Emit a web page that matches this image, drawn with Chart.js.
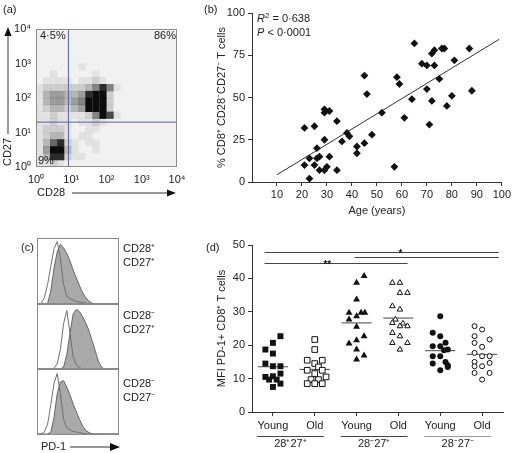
<!DOCTYPE html>
<html>
<head>
<meta charset="utf-8">
<title>CD8 T cell figure</title>
<script src="https://cdn.jsdelivr.net/npm/chart.js@4.4.1/dist/chart.umd.min.js"></script>
<style>
  html, body { margin:0; padding:0; background:#fff; }
  #fig { position:relative; width:513px; height:453px; overflow:hidden;
         font-family:"Liberation Sans", Arial, Helvetica, sans-serif; color:#222; }
  #fig canvas { position:absolute; }
  .t { position:absolute; font-size:11px; line-height:13px; white-space:nowrap; }
  .t sup { font-size:8px; line-height:0; vertical-align:4px; }
</style>
</head>
<body>
<div id="fig">
  <canvas id="chartA" width="230" height="215" style="left:0;top:0"></canvas>
  <canvas id="chartB" width="313" height="225" style="left:200px;top:0"></canvas>
  <canvas id="chartC1" width="82" height="67" style="left:37px;top:238px"></canvas>
  <canvas id="chartC2" width="82" height="67" style="left:37px;top:303px"></canvas>
  <canvas id="chartC3" width="82" height="67" style="left:37px;top:368px"></canvas>
  <canvas id="chartD" width="313" height="228" style="left:200px;top:225px"></canvas>

  <div class="t" style="left:3px;top:3px">(a)</div>
  <div class="t" style="left:204px;top:3px">(b)</div>
  <div class="t" style="left:21px;top:241px">(c)</div>
  <div class="t" style="left:206px;top:241px">(d)</div>
  <div class="t" id="statR" style="left:257px;top:12px"></div>
  <div class="t" id="statP" style="left:257px;top:26px"></div>
  <div id="histLabels"></div>
  <div class="t" style="left:41px;top:440px">PD-1</div>
  <svg style="position:absolute;left:70px;top:442px" width="52" height="10">
    <line x1="0" y1="5" x2="42" y2="5" stroke="#333" stroke-width="1"/>
    <polygon points="40,1 50,5 40,9" fill="#111"/>
  </svg>
</div>

<script>
// ======================= DATA =======================
// (a) CD28 (x) vs CD27 (y) dot plot, log decades 10^0..10^4.
// Event density per 0.2-decade cell (0 = none .. 9 = saturated).
// Rows run from CD27 = 10^4 (top) down to 10^0; columns from CD28 = 10^0 to 10^4.
const logDecadeLabels = ['10⁰', '10¹', '10²', '10³', '10⁴'];
const densityRows = [
  '00000000000000000000',
  '00000000000000000000',
  '00000000000000000000',
  '00000000000000000000',
  '00000000000000000000',
  '00000010000000000000',
  '00100000100000000000',
  '01111011210000000000',
  '12222223585100000000',
  '13443348992000000000',
  '13443459992000000000',
  '12332349992000000000',
  '11211112597100000000',
  '11211011210000000000',
  '12221001100000000000',
  '12331011000000000000',
  '13682101100000000000',
  '14993100100000000000',
  '13882110000000000000',
  '11210000000000000000'
];
const gateCD28 = 8.3;     // quadrant gate on CD28 axis
const gateCD27 = 20;      // quadrant gate on CD27 axis
const quadrantPct = ['4·5%', '86%', '9%'];   // upper-left, upper-right, lower-left

// (b) age vs % CD8+ CD28-CD27- T cells
const ages = [21,25,34,29,31,29,29,26,23,21,25,27,26,31,27,29,30,34,23,36,38,39,42,42,45,48,
              45,46,52,57,58,59,61,64,65,68,70,70,71,72,72,73,73,75,76,77,78,80,81,87,88];
const pctCD28negCD27neg = [32,33,36,43,42,41,25,20,14,10,10,15,14,15,7,7,9,7,2,24,29,27,21,17,23,28,
              63,52,41,9,62,58,38,49,82,70,69,55,34,48,76,78,69,61,79,79,45,51,72,79,54];
const fitAge = [10, 99];
const fitPct = [4.3, 84.5];
const rSquared = '0·638';
const pValue = '0·0001';

// (c) PD-1 histograms (% of modal), isotype (open) vs PD-1 (filled)
const pd1Channel = [0,4,8,12,16,20,24,28,32,36,40,44,48,52,56,60,64,68,72,76,80,84,88,92,96,100];
const histSubsets = [['CD28⁺','CD27⁺'], ['CD28⁻','CD27⁺'], ['CD28⁻','CD27⁻']];
const isoCD28posCD27pos = [0,1,10,30,58,85,96,70,30,12,8,6,4,3,2,1,0,0,0,0,0,0,0,0,0,0];
const pd1CD28posCD27pos = [0,0,0,1,20,55,80,92,86,78,66,52,40,28,17,9,4,1,0,0,0,0,0,0,0,0];
const isoCD28negCD27pos = [0,0,0,0,0,1,8,30,70,90,55,18,6,2,0,0,0,0,0,0,0,0,0,0,0,0];
const pd1CD28negCD27pos = [0,0,0,0,0,0,0,0,3,22,55,85,92,88,80,70,58,42,26,10,2,0,0,0,0,0];
const isoCD28negCD27neg = [0,0,3,15,45,78,93,62,22,10,6,4,3,2,1,0,0,0,0,0,0,0,0,0,0,0];
const pd1CD28negCD27neg = [0,0,0,0,3,25,62,80,82,72,60,46,34,22,12,5,2,0,0,0,0,0,0,0,0,0];

// (d) MFI of PD-1 on CD8+ T cells, young vs old donors, per subset
const subsetLabels = ['Young', 'Old', 'Young', 'Old', 'Young', 'Old'];
const groupLabels = ['28⁺27⁺', '28⁻27⁺', '28⁻27⁻'];
const mfiYoung28p27p = [22.7,20.7,18.7,17.5,14.5,13.7,13.7,11.5,10.5,10.7,9.7,9.7,8.5,7.5];
const mfiOld28p27p   = [21.7,18.7,15.5,15.5,14.5,13.5,12.5,12.5,11.5,10.5,9.7,9.7,8.5,8.5,8.5];
const mfiYoung28n27p = [40.7,38.7,33.7,29.7,29.7,29.7,28.7,27.7,25.5,22.7,21.5,20.5,18.7,16.9,15.7];
const mfiOld28n27p   = [38.7,38.7,35.7,35.7,31.7,30.7,27.7,26.7,26.5,25.7,25.7,23.7,22.7,20.7,20.7,18.7];
const mfiYoung28n27n = [28.7,23.7,22.7,20.7,19.7,19.7,18.7,18.5,16.7,16.7,15.0,14.5,14.0,13.5,12.5];
const mfiOld28n27n   = [25.7,24.7,22.7,21.7,20.7,19.5,17.7,16.7,16.7,15.0,14.7,13.7,13.7,11.7,11.7,9.7];
// dot-column index of each point (scatter layout, not data)
const colYoung28p27p = [1,0,-1,0,-1,0,1,1,-1,0,-0.5,0.5,1,0];
const colOld28p27p   = [0,0,-1,1,0,0.5,-1,1,0,1.5,-0.5,0.5,-1,0,1];
const colYoung28n27p = [1,0,0,-1,0.6,1.1,0,-1,0,1,0,-1,0,1,0];
const colOld28n27p   = [-0.8,0.2,0.2,1.2,-0.8,0.2,-0.4,-0.8,0.6,0.2,1.2,-0.8,0.2,-0.8,1.2,0.2];
const colYoung28n27n = [0,-1,0,0.7,-1,0,1,0.5,-1,0,0.7,-1,1,1,0];
const colOld28n27n   = [-1,0,-1,1,-1,0,-1,0,1,-1,1,-1,0,-1,1,0];
// significance bars: [from, to] in subset positions, height in MFI units
const sigFrom  = [0.8, 2.95, 0.8];
const sigTo    = [6.4, 6.4, 4.22];
const sigY     = [47.8, 46.3, 44.5];
const sigMark  = ['*', '', '**'];
const sigMarkX = [4.05, 0, 2.3];

// ======================= STYLE / HELPERS =======================
const FONT = '"Liberation Sans", Arial, Helvetica, sans-serif';
Chart.defaults.font.family = FONT;
Chart.defaults.font.size = 11;
Chart.defaults.color = '#222';
Chart.defaults.animation = false;
Chart.defaults.plugins.legend.display = false;
Chart.defaults.plugins.tooltip.enabled = false;

function arrow(ctx, x1, y1, x2, y2) {
  const ang = Math.atan2(y2 - y1, x2 - x1), L = 9, W = 3.6;
  ctx.save();
  ctx.strokeStyle = '#333'; ctx.fillStyle = '#111'; ctx.lineWidth = 1;
  ctx.beginPath();
  ctx.moveTo(x1, y1);
  ctx.lineTo(x2 - Math.cos(ang) * L * 0.8, y2 - Math.sin(ang) * L * 0.8);
  ctx.stroke();
  ctx.beginPath();
  ctx.moveTo(x2, y2);
  ctx.lineTo(x2 - Math.cos(ang) * L - Math.sin(ang) * W, y2 - Math.sin(ang) * L + Math.cos(ang) * W);
  ctx.lineTo(x2 - Math.cos(ang) * L + Math.sin(ang) * W, y2 - Math.sin(ang) * L - Math.cos(ang) * W);
  ctx.closePath(); ctx.fill();
  ctx.restore();
}

// ======================= (a) dot plot =======================
const nCols = densityRows[0].length;
const cellStep = 4 / nCols;
const cells = [];
densityRows.forEach((row, r) => {
  [...row].forEach((ch, c) => {
    const d = +ch;
    if (d > 0) cells.push({ x: (c + 0.5) * cellStep, y: 4 - (r + 0.5) * cellStep, d });
  });
});

const panelAPlugin = {
  id: 'panelA',
  beforeDatasetsDraw(chart) {
    const { ctx, chartArea: a } = chart;
    ctx.save(); ctx.fillStyle = '#f1f1f1';
    ctx.fillRect(a.left, a.top, a.width, a.height); ctx.restore();
  },
  afterDraw(chart) {
    const { ctx, chartArea: a } = chart;
    ctx.save();
    ctx.strokeStyle = '#8c8c8c'; ctx.lineWidth = 1;
    ctx.strokeRect(Math.round(a.left) + 0.5, Math.round(a.top) + 0.5, Math.round(a.width) - 1, Math.round(a.height) - 1);
    ctx.fillStyle = '#222'; ctx.font = '11px ' + FONT; ctx.textBaseline = 'middle';
    ctx.textAlign = 'left';
    ctx.fillText(quadrantPct[0], a.left + 4, a.top + 7);
    ctx.fillText(quadrantPct[2], a.left + 2, a.bottom - 6);
    ctx.textAlign = 'right';
    ctx.fillText(quadrantPct[1], a.right - 1, a.top + 7);
    ctx.textAlign = 'left';
    ctx.fillText('CD28', 37, 193);
    ctx.restore();
    arrow(ctx, 72, 193, 176, 193);
    ctx.save();
    ctx.translate(8, 152); ctx.rotate(-Math.PI / 2);
    ctx.fillStyle = '#222'; ctx.font = '11px ' + FONT; ctx.textAlign = 'center'; ctx.textBaseline = 'middle';
    ctx.fillText('CD27', 0, 0);
    ctx.restore();
    arrow(ctx, 8, 134, 8, 27);
  }
};

new Chart(document.getElementById('chartA'), {
  type: 'scatter',
  data: { datasets: [
    { type: 'line', order: 0, data: [{ x: Math.log10(gateCD28), y: 0 }, { x: Math.log10(gateCD28), y: 4 }],
      borderColor: '#5660a8', borderWidth: 1, pointRadius: 0 },
    { type: 'line', order: 0, data: [{ x: 0, y: Math.log10(gateCD27) }, { x: 4, y: Math.log10(gateCD27) }],
      borderColor: '#5660a8', borderWidth: 1, pointRadius: 0 },
    { order: 1, data: cells, pointStyle: 'rect', borderWidth: 0,
      pointRadius: (c) => c.chart.chartArea ? (c.chart.chartArea.width / nCols) / Math.SQRT2 * 1.03 : 5,
      backgroundColor: (c) => 'rgba(12,12,12,' + Math.pow((c.raw ? c.raw.d : 0) / 9, 1.25).toFixed(3) + ')' }
  ] },
  options: {
    responsive: false, devicePixelRatio: 1,
    layout: { padding: { top: 29, right: 53, left: 0, bottom: 0 } },
    scales: {
      x: { type: 'linear', min: 0, max: 4,
        afterBuildTicks: (s) => { s.ticks = [0, 1, 2, 3, 4].map(v => ({ value: v })); },
        afterFit: (s) => { s.height = 48; },
        ticks: { callback: (v) => logDecadeLabels[v], padding: 6, maxRotation: 0, autoSkip: false },
        grid: { display: false, drawTicks: false }, border: { display: false } },
      y: { type: 'linear', min: 0, max: 4,
        afterBuildTicks: (s) => { s.ticks = [0, 1, 2, 3, 4].map(v => ({ value: v })); },
        afterFit: (s) => { s.width = 36; },
        ticks: { callback: (v) => logDecadeLabels[v], padding: 5, autoSkip: false },
        grid: { display: false, drawTicks: false }, border: { display: false } }
    }
  },
  plugins: [panelAPlugin]
});

// ======================= (b) age scatter =======================
document.getElementById('statR').innerHTML = '<i>R</i><sup>2</sup> = ' + rSquared;
document.getElementById('statP').innerHTML = '<i>P</i> &lt; ' + pValue;

new Chart(document.getElementById('chartB'), {
  type: 'scatter',
  data: { datasets: [
    { order: 0, data: ages.map((a, i) => ({ x: a, y: pctCD28negCD27neg[i] })),
      pointStyle: 'rectRot', pointRadius: 3.9, backgroundColor: '#111', borderWidth: 0 },
    { type: 'line', order: 1, data: fitAge.map((a, i) => ({ x: a, y: fitPct[i] })),
      borderColor: '#333', borderWidth: 1, pointRadius: 0 }
  ] },
  options: {
    responsive: false, devicePixelRatio: 1,
    layout: { padding: { top: 13, right: 10, left: 0, bottom: 0 } },
    scales: {
      x: { type: 'linear', min: 0, max: 100,
        afterBuildTicks: (s) => { s.ticks = [10, 20, 30, 40, 50, 60, 70, 80, 90, 100].map(v => ({ value: v })); },
        afterFit: (s) => { s.height = 43; },
        ticks: { padding: 2, maxRotation: 0, autoSkip: false },
        grid: { drawOnChartArea: false, drawTicks: true, tickLength: 4, color: '#333' },
        border: { display: true, color: '#333' },
        title: { display: true, text: 'Age (years)', padding: { top: 0, bottom: 7 } } },
      y: { type: 'linear', min: 0, max: 100,
        afterBuildTicks: (s) => { s.ticks = [0, 25, 50, 75, 100].map(v => ({ value: v })); },
        afterFit: (s) => { s.width = 52; },
        ticks: { padding: 3, autoSkip: false },
        grid: { drawOnChartArea: false, drawTicks: true, tickLength: 4, color: '#333' },
        border: { display: true, color: '#333' },
        title: { display: true, text: '% CD8⁺ CD28⁻CD27⁻ T cells', padding: { top: 15, bottom: 0 } } }
    }
  }
});

// ======================= (c) histograms =======================
const boxPlugin = {
  id: 'box',
  afterDraw(chart) {
    const ctx = chart.ctx;
    ctx.save(); ctx.strokeStyle = '#8a8a8a'; ctx.lineWidth = 1;
    ctx.strokeRect(0.5, 0.5, chart.width - 1, chart.height - 1); ctx.restore();
  }
};
const histSets = [
  ['chartC1', isoCD28posCD27pos, pd1CD28posCD27pos],
  ['chartC2', isoCD28negCD27pos, pd1CD28negCD27pos],
  ['chartC3', isoCD28negCD27neg, pd1CD28negCD27neg]
];
histSets.forEach(([id, iso, pd1]) => {
  new Chart(document.getElementById(id), {
    type: 'line',
    data: { datasets: [
      { order: 0, data: pd1Channel.map((x, i) => ({ x, y: iso[i] })), borderColor: '#6f6f6f',
        borderWidth: 1, pointRadius: 0, fill: false, tension: 0 },
      { order: 1, data: pd1Channel.map((x, i) => ({ x, y: pd1[i] })), borderColor: '#666',
        backgroundColor: '#a9a9a9', borderWidth: 1, pointRadius: 0, fill: 'origin', tension: 0 }
    ] },
    options: {
      responsive: false, devicePixelRatio: 1,
      layout: { padding: 1 },
      scales: { x: { type: 'linear', min: 0, max: 100, display: false },
                y: { type: 'linear', min: 0, max: 100, display: false } }
    },
    plugins: [boxPlugin]
  });
});
const histLabelTops = [241, 308, 376];
document.getElementById('histLabels').innerHTML = histSubsets.map((s, i) =>
  '<div class="t" style="left:123px;top:' + histLabelTops[i] + 'px;line-height:14px">' + s[0] + '<br>' + s[1] + '</div>'
).join('');

// ======================= (d) MFI dot plot =======================
const jitterStep = 0.18;
const groupsD = [
  { v: mfiYoung28p27p, c: colYoung28p27p, style: 'rect', r: 4.2, fill: '#111', bw: 0 },
  { v: mfiOld28p27p,   c: colOld28p27p,   style: 'rect', r: 4.0, fill: '#fff', bw: 1 },
  { v: mfiYoung28n27p, c: colYoung28n27p, style: 'triangle', r: 4.0, fill: '#111', bw: 0 },
  { v: mfiOld28n27p,   c: colOld28n27p,   style: 'triangle', r: 3.2, fill: '#fff', bw: 1 },
  { v: mfiYoung28n27n, c: colYoung28n27n, style: 'circle', r: 3.0, fill: '#111', bw: 0 },
  { v: mfiOld28n27n,   c: colOld28n27n,   style: 'circle', r: 2.5, fill: '#fff', bw: 1 }
];
const dsD = [];
groupsD.forEach((g, gi) => {
  const pos = gi + 1;
  dsD.push({ order: 0, data: g.v.map((v, i) => ({ x: pos + g.c[i] * jitterStep, y: v })),
    pointStyle: g.style, pointRadius: g.r, backgroundColor: g.fill, borderColor: '#111', borderWidth: g.bw });
  const mean = g.v.reduce((s, v) => s + v, 0) / g.v.length;
  dsD.push({ type: 'line', order: 1, data: [{ x: pos - 0.36, y: mean }, { x: pos + 0.36, y: mean }],
    borderColor: '#444', borderWidth: 1, pointRadius: 0 });
});

const panelDPlugin = {
  id: 'panelD',
  afterDraw(chart) {
    const { ctx, chartArea: a, scales: { x, y } } = chart;
    ctx.save();
    ctx.lineWidth = 1; ctx.strokeStyle = '#444';
    sigFrom.forEach((f, i) => {
      const py = Math.round(y.getPixelForValue(sigY[i])) + 0.5;
      ctx.beginPath(); ctx.moveTo(x.getPixelForValue(f), py); ctx.lineTo(x.getPixelForValue(sigTo[i]), py); ctx.stroke();
      if (sigMark[i]) {
        ctx.fillStyle = '#111'; ctx.font = 'bold 10px ' + FONT; ctx.textAlign = 'center'; ctx.textBaseline = 'middle';
        ctx.fillText(sigMark[i], x.getPixelForValue(sigMarkX[i]), py + 2);
      }
    });
    const lineCols = ['#444', '#444', '#9a9a9a'];
    groupLabels.forEach((lab, gi) => {
      const c = 2 * gi + 1.5 - 0.08;
      const py = Math.round(a.bottom + 24) + 0.5;
      ctx.strokeStyle = lineCols[gi];
      ctx.beginPath(); ctx.moveTo(x.getPixelForValue(c - 0.8), py); ctx.lineTo(x.getPixelForValue(c + 0.8), py); ctx.stroke();
      ctx.fillStyle = '#222'; ctx.font = '11px ' + FONT; ctx.textAlign = 'center'; ctx.textBaseline = 'middle';
      ctx.fillText(lab, x.getPixelForValue(c), a.bottom + 32);
    });
    ctx.restore();
  }
};

new Chart(document.getElementById('chartD'), {
  type: 'scatter',
  data: { datasets: dsD },
  options: {
    responsive: false, devicePixelRatio: 1,
    layout: { padding: { top: 20, right: 10, left: 0, bottom: 0 } },
    scales: {
      x: { type: 'linear', min: 0.5, max: 6.5,
        afterBuildTicks: (s) => { s.ticks = [1, 2, 3, 4, 5, 6].map(v => ({ value: v })); },
        afterFit: (s) => { s.height = 41; },
        ticks: { callback: (v) => subsetLabels[v - 1], padding: 3, maxRotation: 0, autoSkip: false },
        grid: { drawOnChartArea: false, drawTicks: true, tickLength: 4, color: '#333' },
        border: { display: true, color: '#333' } },
      y: { type: 'linear', min: 0, max: 50,
        afterBuildTicks: (s) => { s.ticks = [0, 10, 20, 30, 40, 50].map(v => ({ value: v })); },
        afterFit: (s) => { s.width = 52; },
        ticks: { padding: 3, autoSkip: false },
        grid: { drawOnChartArea: false, drawTicks: true, tickLength: 4, color: '#333' },
        border: { display: true, color: '#333' },
        title: { display: true, text: 'MFI PD-1+ CD8⁺ T cells', padding: { top: 15, bottom: 0 } } }
    }
  },
  plugins: [panelDPlugin]
});
</script>
</body>
</html>
